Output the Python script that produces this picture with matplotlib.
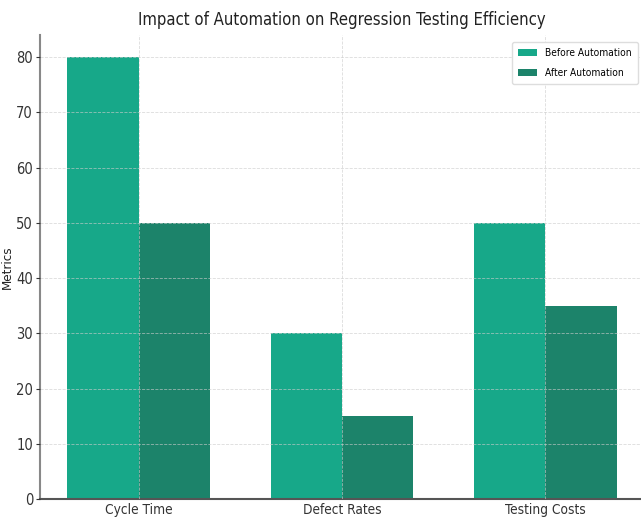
import numpy as np
import matplotlib
matplotlib.use("Agg")
import matplotlib.pyplot as plt

categories = ["Cycle Time", "Defect Rates", "Testing Costs"]
before_automation = [80, 30, 50]
after_automation = [50, 15, 35]

plt.rcParams['font.family'] = ['DejaVu Sans']
plt.rcParams['font.stretch'] = 'condensed'

fig = plt.figure(figsize=(6.41, 5.18), dpi=100)
ax = fig.add_axes([40 / 641, 19 / 518, 604 / 641, 464 / 518])

x = np.arange(len(categories))
width = 0.35

ax.bar(x - width / 2, before_automation, width, label="Before Automation", color="#17a889")
ax.bar(x + width / 2, after_automation, width, label="After Automation", color="#1c836a")

ax.set_xlim(-0.485, 2.485)
ax.set_ylim(0, 84)
ax.set_xticks(x)
ax.set_xticklabels(categories, fontsize=9.8)
ax.set_yticks(range(0, 81, 10))
ax.tick_params(axis='y', labelsize=10.5, length=3, pad=2)
ax.tick_params(axis='x', length=0, pad=3)
ax.set_ylabel("Metrics", fontsize=9.5, color="#222222")
ax.yaxis.set_label_coords(-0.043, 0.5)
ax.set_title("Impact of Automation on Regression Testing Efficiency", fontsize=12,
             pad=7, color="#222222")

# dashed grid over the bars
ax.set_axisbelow(False)
ax.grid(True, linestyle="--", linewidth=0.6, color="#cccccc", alpha=0.7)

for side in ("top", "right"):
    ax.spines[side].set_visible(False)
ax.spines["left"].set_color("#888888")
ax.spines["left"].set_linewidth(1.5)
ax.spines["bottom"].set_color("#555555")
ax.spines["bottom"].set_linewidth(1.5)
ax.tick_params(colors="#333333")

ax.legend(loc="upper right", fontsize=7.3, framealpha=1, edgecolor="#dddddd",
          bbox_to_anchor=(0.99, 0.985), borderaxespad=0, borderpad=0.6,
          labelspacing=1.0, handlelength=1.9, handletextpad=0.8)

fig.savefig("out.png", dpi=100)
